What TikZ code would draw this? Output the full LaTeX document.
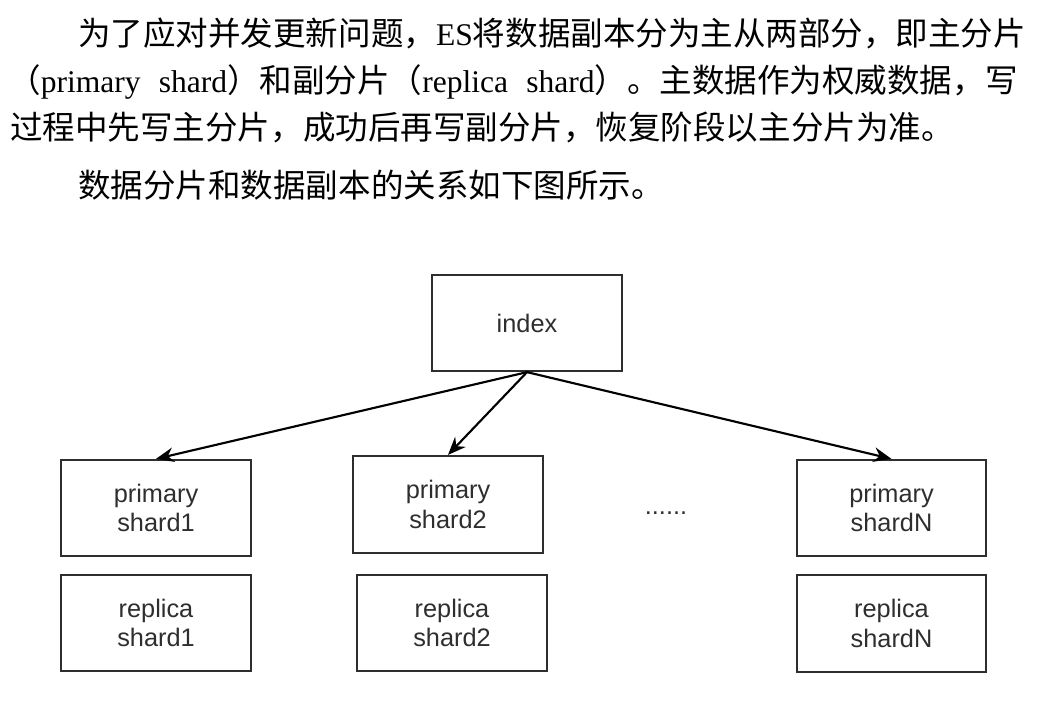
\documentclass[tikz,border=0pt]{standalone}
\usepackage{fontspec}
\setmainfont{Liberation Serif}
\newfontfamily\cjk{Noto Sans CJK SC}
\newfontfamily\latin[Scale=0.97]{Liberation Serif}
\newfontfamily\arial{Liberation Sans}
\usetikzlibrary{arrows.meta}
\definecolor{boxgray}{HTML}{2E2E2E}
\begin{document}
\begin{tikzpicture}[x=0.75pt,y=-0.75pt,
  para/.style={anchor=base west,inner sep=0pt,font=\fontsize{24.4}{30}\selectfont\cjk},
  shardbox/.style={draw=boxgray,line width=1.7pt,minimum width=142.5pt,minimum height=72pt,
    inner sep=0pt,align=center,text=boxgray,font=\fontsize{19}{22}\selectfont\arial},
  link/.style={line width=1.6pt,-{Stealth[length=13.5pt,width=11pt,inset=4.5pt]}}]
\useasboundingbox (0,0) rectangle (1050,708);
% paragraph
\node[para] (l1) at (78,45) {为了应对并发更新问题，{\latin ES}将数据副本分为主从两部分，即主分片};
\node[para] (l2) at (8,92) {\makebox[757pt][s]{（{\latin primary shard}）和副分片（{\latin replica shard}）。主数据作为权威数据，写}};
\node[para] (l3) at (10,139) {过程中先写主分片，成功后再写副分片，恢复阶段以主分片为准。};
\node[para] (l4) at (78,197) {数据分片和数据副本的关系如下图所示。};
% diagram
\node[shardbox] (index) at (527,323) {index};
\node[shardbox] (p1) at (156,508) {primary\\shard1};
\node[shardbox] (r1) at (156,623) {replica\\shard1};
\node[shardbox,minimum height=72.75pt] (p2) at (448,504.5) {primary\\shard2};
\node[shardbox] (r2) at (452,623) {replica\\shard2};
\node[shardbox,minimum width=141.75pt] (pN) at (891.5,508) {primary\\shardN};
\node[shardbox,minimum width=141.75pt,minimum height=72.75pt] (rN) at (891.5,623.5) {replica\\shardN};
\node[anchor=base,text=boxgray,font=\fontsize{19}{22}\selectfont\arial,inner sep=0pt] (dots) at (666,514) {......};
\draw[link] (index.south) -- (p1.north);
\draw[link] (index.south) -- (p2.north);
\draw[link] (index.south) -- (pN.north);
\end{tikzpicture}
\end{document}
